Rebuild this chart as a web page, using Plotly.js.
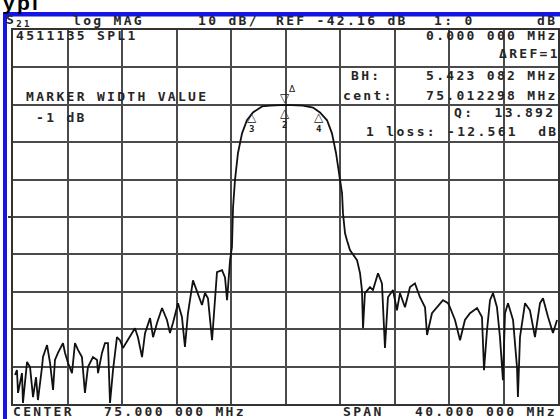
<!DOCTYPE html>
<html>
<head>
<meta charset="utf-8">
<script src="https://cdn.plot.ly/plotly-3.0.1.min.js"></script>
<style>
html,body{margin:0;padding:0;background:#fff;}
#chart{width:560px;height:419px;}
.annotation-text{letter-spacing:2.3px;}
</style>
</head>
<body>
<div id="chart"></div>
<script>
// ---- data (frequency in MHz, S21 in dB) ----
const freqMHz = [55.15,55.29,55.37,55.66,55.73,56.03,56.25,56.47,56.69,56.83,57.13,57.20,57.50,57.72,57.94,58.08,58.30,58.67,58.82,59.04,59.33,59.55,59.77,60.06,60.28,60.50,60.87,61.17,61.24,61.53,61.75,61.97,62.12,62.34,62.63,62.85,63.07,63.44,63.95,64.17,64.47,64.69,65.06,65.28,65.57,65.94,66.30,66.52,66.74,67.11,67.40,67.62,67.84,68.21,68.58,68.87,69.09,69.31,69.61,69.83,69.97,70.34,70.56,70.71,70.78,70.93,71.07,71.15,71.29,71.51,71.81,72.17,72.61,73.28,73.86,75.01,76.28,77.02,77.53,78.05,78.41,78.71,78.93,79.15,79.22,79.37,79.51,79.73,80.25,80.47,80.61,80.69,80.83,81.20,81.42,81.79,82.08,82.30,82.52,82.89,83.18,83.40,83.77,84.14,84.50,84.87,85.24,85.39,85.75,86.12,86.56,86.93,87.07,87.44,87.81,88.17,88.54,89.06,89.42,89.57,89.79,90.01,90.23,90.52,90.74,90.96,91.11,91.33,91.70,91.99,92.06,92.21,92.58,92.94,93.31,93.68,93.90,94.27,94.63,94.93];
const s21dB = [-84.4,-83.1,-89.2,-83.9,-91.9,-80.9,-82.3,-90.3,-85.0,-91.1,-82.3,-79.6,-76.4,-81.2,-88.4,-80.4,-78.5,-75.9,-78.5,-81.2,-83.9,-75.9,-77.7,-79.6,-89.2,-82.3,-79.6,-80.4,-83.9,-78.5,-75.9,-75.9,-91.9,-83.1,-74.3,-75.1,-77.2,-75.1,-71.9,-74.3,-79.6,-73.2,-69.2,-74.3,-70.5,-66.5,-69.7,-73.2,-70.5,-65.2,-68.9,-76.9,-67.9,-59.1,-62.5,-65.7,-62.5,-63.9,-75.1,-62.5,-56.9,-56.4,-58.3,-64.4,-60.9,-53.7,-50.2,-39.6,-32.4,-25.1,-19.8,-16.3,-14.2,-12.6,-12.4,-12.2,-12.4,-12.9,-14.2,-16.3,-19.8,-25.1,-30.5,-35.8,-41.2,-46.5,-48.4,-51.0,-53.7,-57.2,-61.7,-71.9,-62.5,-60.9,-61.7,-57.2,-59.9,-77.2,-63.6,-61.7,-67.1,-62.5,-66.3,-60.9,-59.9,-63.6,-66.3,-73.7,-67.9,-66.3,-64.4,-65.2,-66.3,-69.7,-75.1,-69.7,-67.9,-66.5,-68.9,-83.1,-72.4,-64.4,-62.5,-66.3,-74.3,-85.8,-67.9,-65.2,-69.7,-82.3,-90.3,-74.3,-65.2,-67.1,-74.3,-65.2,-63.9,-68.9,-73.2,-69.7];

// markers
const markerFreq = [75.01, 75.01, 72.6, 77.5];
const markerDb   = [-12.56, -12.56, -13.56, -13.56];
const markerNum  = ['1', '2', '3', '4'];

// instrument settings
const centerMHz = 75.0;
const spanMHz = 40.0;
const refDb = -42.16;
const scaleDb = 10;

// annotation texts
const headerTexts = ['S<sub>21</sub>', 'log MAG', '10 dB/', 'REF -42.16 dB', '1: 0', 'dB'];
const infoTexts = ['4511135 SPL1', '0.000 000 MHz', 'ΔREF=1', 'BH:', '5.423 082 MHz', 'cent:', '75.012298 MHz', 'Q:  13.892', '1 loss: -12.561  dB', 'MARKER WIDTH VALUE', '-1 dB'];
const footerTexts = ['CENTER', '75.000 000 MHz', 'SPAN', '40.000 000 MHz'];

// ---- layout helpers (pixel -> paper) ----
const L = 13, R = 558, T = 30, B = 404;
const PX = px => (px - L) / (R - L);
const PY = py => (B - py) / (B - T);

const headerPos = [[5,21],[72,21],[197,21],[275,21],[433,21],[536,21]];
const infoPos = [[15,35],[425,36],[498,53],[350,75],[425,75],[342,95],[425,95],[453,112],[365,131],[25,96],[35,117]];
const footerPos = [[12,411],[103,411],[342,411],[414,411]];

const txtFont = {family: 'DejaVu Sans Mono', size: 13, color: '#262626', weight: 'bold'};

function mkText(t, p) {
  return {text: t, xref: 'paper', yref: 'paper', x: PX(p[0]), y: PY(p[1]),
    xanchor: 'left', yanchor: 'middle', align: 'left', showarrow: false,
    font: txtFont, borderpad: 0};
}

const annotations = [];
headerTexts.forEach((t, i) => annotations.push(mkText(t, headerPos[i])));
infoTexts.forEach((t, i) => annotations.push(mkText(t, infoPos[i])));
footerTexts.forEach((t, i) => annotations.push(mkText(t, footerPos[i])));

// top cropped title fragment
annotations.push({text: 'ypi', xref: 'paper', yref: 'paper', x: PX(2), y: PY(15),
  xanchor: 'left', yanchor: 'bottom', showarrow: false, borderpad: 0,
  font: {family: 'Liberation Sans', size: 21, color: '#000', weight: 'bold'}});

// marker glyphs
const mkFont = {family: 'DejaVu Sans', size: 12, color: '#222', weight: 'bold'};
markerFreq.forEach((f, i) => {
  if (i === 0) {
    annotations.push({text: '▽', x: f, y: markerDb[i], xref: 'x', yref: 'y', showarrow: false, yshift: 8, font: mkFont});
    annotations.push({text: 'Δ', x: f, y: markerDb[i], xref: 'x', yref: 'y', showarrow: false, yshift: 17, xshift: 7, font: {family: 'DejaVu Sans', size: 9, color: '#222'}});
  } else {
    annotations.push({text: '△', x: f, y: markerDb[i], xref: 'x', yref: 'y', showarrow: false, yshift: -7, font: mkFont});
    annotations.push({text: markerNum[i], x: f, y: markerDb[i], xref: 'x', yref: 'y', showarrow: false, yshift: -19, font: {family: 'DejaVu Sans Mono', size: 9, color: '#222', weight: 'bold'}});
  }
});

const shapes = [
  // blue screen frame (left and top)
  {type: 'rect', xref: 'paper', yref: 'paper', x0: PX(3), x1: PX(7), y0: PY(419), y1: PY(12), fillcolor: '#1414e6', line: {width: 0}},
  {type: 'rect', xref: 'paper', yref: 'paper', x0: PX(3), x1: PX(560), y0: PY(16.5), y1: PY(12), fillcolor: '#1414e6', line: {width: 0}},
  // reference position indicator
  {type: 'line', xref: 'paper', yref: 'y', x0: PX(8), x1: PX(13), y0: refDb, y1: refDb, line: {color: '#333', width: 2}}
];

const trace = {
  x: freqMHz, y: s21dB, type: 'scatter', mode: 'lines',
  line: {color: '#111', width: 1.8}, hoverinfo: 'none'
};

const axisCommon = {
  showgrid: true, gridcolor: '#4a4a4a', gridwidth: 2,
  zeroline: false, showticklabels: false, ticks: '',
  showline: true, mirror: true, linecolor: '#333', linewidth: 2
};

const layout = {
  width: 560, height: 419,
  margin: {l: L, r: 560 - R, t: T, b: 419 - B, pad: 0},
  paper_bgcolor: '#fff', plot_bgcolor: '#fff',
  showlegend: false,
  xaxis: Object.assign({}, axisCommon, {range: [centerMHz - spanMHz / 2, centerMHz + spanMHz / 2], dtick: spanMHz / 10, tick0: centerMHz - spanMHz / 2}),
  yaxis: Object.assign({}, axisCommon, {range: [refDb - 5 * scaleDb, refDb + 5 * scaleDb], dtick: scaleDb, tick0: refDb}),
  annotations: annotations,
  shapes: shapes
};

Plotly.newPlot('chart', [trace], layout, {displayModeBar: false, staticPlot: true});
</script>
</body>
</html>
